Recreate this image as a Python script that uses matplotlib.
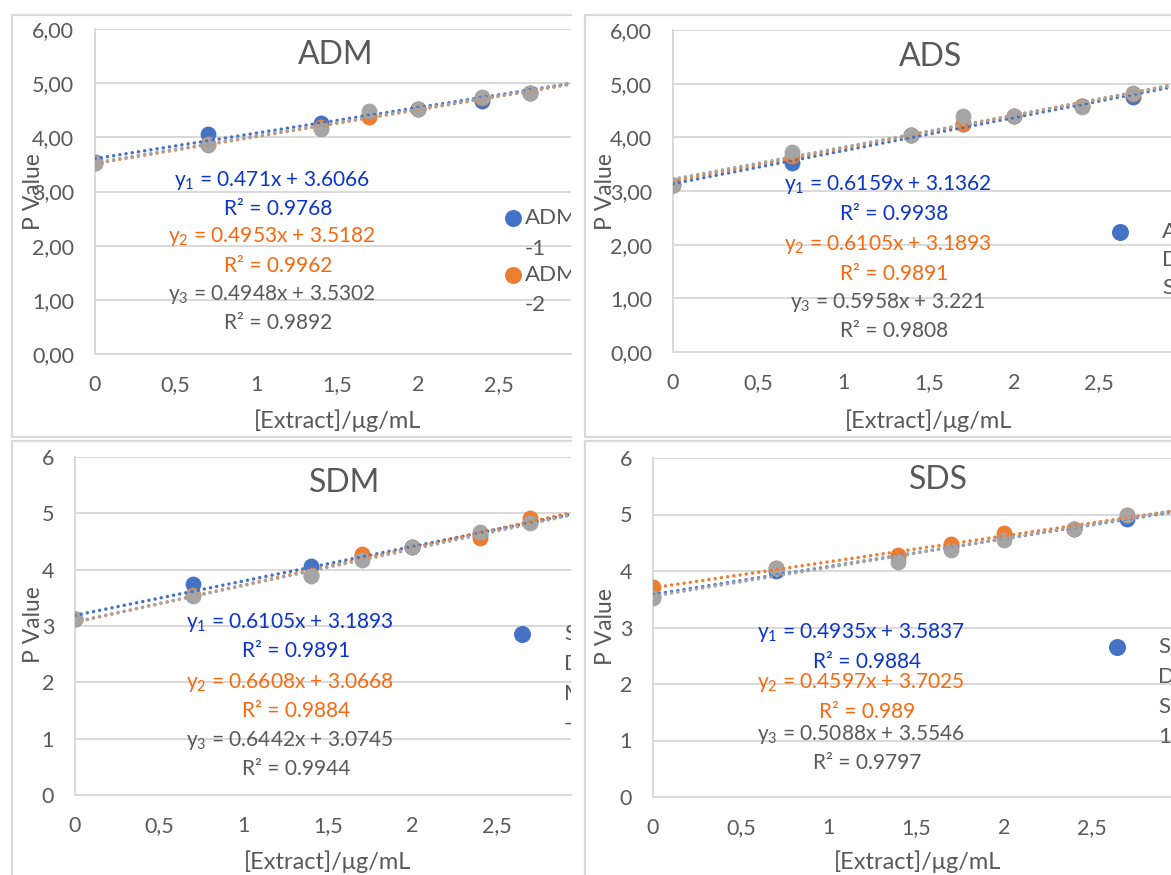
import matplotlib.pyplot as plt
from matplotlib.lines import Line2D

plt.rcParams['font.family'] = ['Lato', 'DejaVu Sans']
plt.rcParams['mathtext.fontset'] = 'custom'
plt.rcParams['mathtext.rm'] = 'Lato'
plt.rcParams['mathtext.it'] = 'Lato:italic'

W, H = 1171, 875

# log10 of the extract concentration
x_conc = [0, 0.699, 1.398, 1.699, 2.0, 2.398, 2.699]

# P values (series 1, 2, 3)
adm_1 = [3.55, 4.07, 4.27, 4.42, 4.52, 4.68, 4.82]
adm_2 = [3.52, 3.88, 4.20, 4.38, 4.52, 4.72, 4.82]
adm_3 = [3.52, 3.86, 4.15, 4.48, 4.52, 4.74, 4.82]

ads_1 = [3.12, 3.52, 4.05, 4.25, 4.40, 4.58, 4.76]
ads_2 = [3.12, 3.65, 4.05, 4.25, 4.40, 4.58, 4.80]
ads_3 = [3.12, 3.72, 4.05, 4.40, 4.40, 4.56, 4.82]

sdm_1 = [3.12, 3.75, 4.07, 4.25, 4.40, 4.62, 4.85]
sdm_2 = [3.12, 3.55, 3.90, 4.27, 4.40, 4.57, 4.92]
sdm_3 = [3.12, 3.53, 3.88, 4.17, 4.40, 4.67, 4.82]

sds_1 = [3.55, 4.00, 4.25, 4.45, 4.60, 4.75, 4.92]
sds_2 = [3.72, 4.05, 4.28, 4.47, 4.67, 4.75, 5.00]
sds_3 = [3.52, 4.05, 4.16, 4.38, 4.54, 4.75, 5.00]

# trendline coefficients (slope, intercept, R²) as printed on the chart
adm_fit = [(0.471, 3.6066, 0.9768), (0.4953, 3.5182, 0.9962), (0.4948, 3.5302, 0.9892)]
ads_fit = [(0.6159, 3.1362, 0.9938), (0.6105, 3.1893, 0.9891), (0.5958, 3.221, 0.9808)]
sdm_fit = [(0.6105, 3.1893, 0.9891), (0.6608, 3.0668, 0.9884), (0.6442, 3.0745, 0.9944)]
sds_fit = [(0.4935, 3.5837, 0.9884), (0.4597, 3.7025, 0.989), (0.5088, 3.5546, 0.9797)]

titles = ['ADM', 'ADS', 'SDM', 'SDS']
series = [[adm_1, adm_2, adm_3], [ads_1, ads_2, ads_3],
          [sdm_1, sdm_2, sdm_3], [sds_1, sds_2, sds_3]]
fits = [adm_fit, ads_fit, sdm_fit, sds_fit]
# visible part of each (cropped) legend: lines per entry
legend_text = [[['ADM', '-1'], ['ADM', '-2']], [['A', 'D', 'S']],
               [['S', 'D', 'M', '-']], [['S', 'D', 'S', '1']]]

colors = ['#4472C4', '#ED7D31', '#A5A5A5']
eq_colors = ['#0A34CC', '#F8680F', '#595959']
txt = '#595959'
grid = '#D9D9D9'

# layout in pixels: plot box (l, t, r, b), xmax, y-tick format, title, labels
layout = [
    dict(box=(95, 29, 571, 354), xmax=2.95, fmt='{:.2f}', title=(336, 55),
         ylab=(34, 192), xlab=(338, 421), eq_x=272, eq_y=[180, 237, 294],
         leg=[(513, 218, 31), (513, 275, 30)], leg_tx=525),
    dict(box=(673, 30, 1171, 352), xmax=2.92, fmt='{:.2f}', title=(931, 57),
         ylab=(606, 192), xlab=(929, 421), eq_x=888, eq_y=[185, 245, 302],
         leg=[(1120, 232, 28)], leg_tx=1162),
    dict(box=(75, 457, 571, 795), xmax=2.94, fmt='{:.0f}', title=(345, 483),
         ylab=(34, 625), xlab=(328, 862), eq_x=290, eq_y=[622, 682, 740],
         leg=[(522, 634, 30)], leg_tx=564),
    dict(box=(653, 458, 1171, 797), xmax=2.95, fmt='{:.0f}', title=(938, 480),
         ylab=(606, 627), xlab=(918, 862), eq_x=861, eq_y=[633, 683, 734],
         leg=[(1117, 647, 30)], leg_tx=1158),
]

fig = plt.figure(figsize=(W / 100, H / 100), dpi=100)


def fpt(x, y):
    return x / W, 1 - y / H


# chart-area borders of the four cropped Excel charts
for pts in [[(571, 15), (12, 15), (12, 437), (571, 437)],
            [(571, 441), (12, 441), (12, 875)],
            [(1171, 15), (585, 15), (585, 437), (1171, 437)],
            [(1171, 441), (585, 441), (585, 875)]]:
    xs, ys = zip(*[fpt(*p) for p in pts])
    fig.add_artist(Line2D(xs, ys, color=grid, lw=1.6))

for k, lay in enumerate(layout):
    l, t, r, b = lay['box']
    ax = fig.add_axes([l / W, 1 - b / H, (r - l) / W, (b - t) / H])
    ax.set_xlim(0, lay['xmax'])
    ax.set_ylim(0, 6)
    ax.set_xticks([0, 0.5, 1, 1.5, 2, 2.5])
    ax.set_xticklabels(['0', '0,5', '1', '1,5', '2', '2,5'])
    ax.set_yticks(range(7))
    ax.set_yticklabels([lay['fmt'].format(v).replace('.', ',') for v in range(7)])
    ax.tick_params(length=0, labelsize=15.5, labelcolor=txt, pad=15)
    ax.grid(axis='y', color=grid, lw=1.4)
    ax.set_axisbelow(True)
    for s in ['top', 'right']:
        ax.spines[s].set_visible(False)
    for s in ['left', 'bottom']:
        ax.spines[s].set_color(grid)
        ax.spines[s].set_linewidth(1.4)

    for ys_, c in zip(series[k], colors):
        ax.scatter(x_conc, ys_, s=130, color=c, zorder=3, linewidths=0)
    xl = [0, lay['xmax']]
    for (m, c0, _), c in zip(fits[k], colors):
        ax.plot(xl, [m * xv + c0 for xv in xl], color=c, lw=2.5,
                ls=(0, (0.01, 1.8)), dash_capstyle='round', zorder=4)

    # trendline equations
    for i, ((m, c0, r2), ec) in enumerate(zip(fits[k], eq_colors)):
        ey = lay['eq_y'][i]
        fig.text(*fpt(lay['eq_x'], ey),
                 f'y$_\\mathregular{{{i + 1}}}$ = {m:g}x + {c0:g}',
                 ha='center', va='center', fontsize=15, color=ec)
        fig.text(*fpt(lay['eq_x'] + 6, ey + 29), f'R\u00b2 = {r2:g}',
                 ha='center', va='center', fontsize=15, color=ec)

    # legend (cut off by the crop)
    for (mx, my, step), lines, c in zip(lay['leg'], legend_text[k], colors):
        ax.scatter([(mx - l) / (r - l)], [(b - my) / (b - t)], s=150,
                   color=c, linewidths=0, transform=ax.transAxes, zorder=5,
                   clip_on=False)
        for j, line in enumerate(lines):
            ly = my + j * step
            ax.text((lay['leg_tx'] - l) / (r - l), (b - ly) / (b - t), line,
                    transform=ax.transAxes, ha='left', va='center',
                    fontsize=16, color=txt, clip_on=True)

    fig.text(*fpt(*lay['title']), titles[k], ha='center', va='center',
             fontsize=23, color=txt)
    fig.text(*fpt(*lay['ylab']), 'P Value', ha='center', va='center',
             rotation=90, fontsize=16.5, color=txt)
    fig.text(*fpt(*lay['xlab']), '[Extract]/\u03bcg/mL', ha='center',
             va='center', fontsize=17, color=txt)

fig.savefig('out.png', dpi=100)
